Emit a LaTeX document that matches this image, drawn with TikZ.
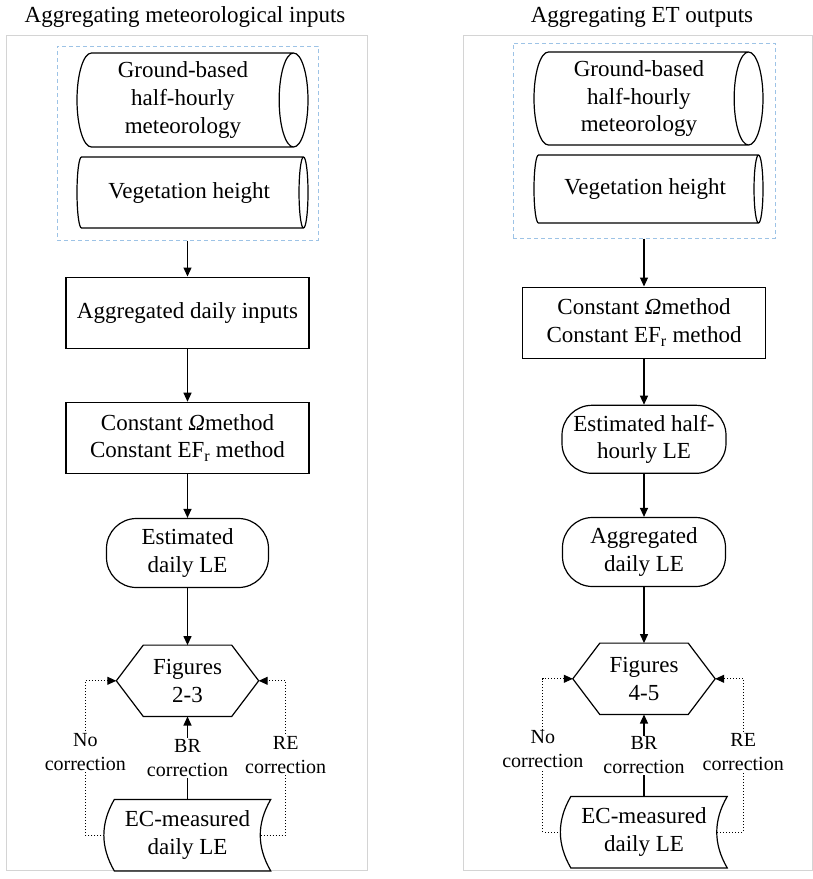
\documentclass[tikz,border=0pt]{standalone}
\usepackage{fontspec}
\setmainfont{Liberation Serif}
\usetikzlibrary{positioning, shapes.geometric, arrows.meta}

\definecolor{dashblue}{RGB}{157,195,230}
\definecolor{panelgray}{RGB}{212,212,212}

\tikzset{
  proc/.style={draw, rectangle, line width=1.2pt, minimum width=243pt,
               minimum height=71pt, align=center, inner sep=2pt},
  term/.style={draw, rectangle, rounded corners=30pt, line width=1.2pt,
               minimum width=163pt, minimum height=69pt, align=center, inner sep=2pt},
  drum/.style={draw, cylinder, shape aspect=0.36, line width=1.2pt, anchor=shape center,
               minimum height=231pt, align=center, inner sep=2pt},
  fig/.style={minimum width=142pt, minimum height=71pt, align=center, inner sep=0pt},
  ecdoc/.style={minimum width=166pt, minimum height=71pt, align=center, inner sep=0pt},
  inbox/.style={draw=dashblue, dash pattern=on 4pt off 3pt, line width=1pt},
  flow/.style={line width=1.2pt, -{Triangle[length=9pt,width=8pt]}},
  corr/.style={line width=1pt, dotted, -{Triangle[length=9pt,width=8pt]}},
  lab/.style={fill=white, align=center, font=\fontsize{20}{24}\selectfont, inner sep=1pt}
}

\begin{document}
\begin{tikzpicture}[x=1pt, y=1pt, font=\fontsize{23}{27.6}\selectfont]
\useasboundingbox (0,0) rectangle (813,-879);

% Panels and titles
\draw[panelgray, line width=1pt] (6,-35) rectangle (367,-870);
\draw[panelgray, line width=1pt] (463,-35) rectangle (812,-870);
\node (titleL) at (185,-17) {Aggregating meteorological inputs};
\node (titleR) at (642,-17) {Aggregating ET outputs};

% Left panel: inputs
\node (inL) [inbox, minimum width=261pt, minimum height=194pt] at (187.5,-143) {};
\node (gbL) [drum, minimum width=94pt] at (192.5,-100) {Ground-based\\half-hourly\\meteorology};
\node (vhL) [drum, minimum width=71pt] at (192.5,-192.5) {Vegetation height};

% Left panel: flow
\node (aggL) [proc, below=36pt of inL] {Aggregated daily inputs};
\node (omL) [proc, below=53pt of aggL] {Constant {\itshape Ω\/}method\\Constant EF\textsubscript{r} method};
\node (estL) [term, below=44pt of omL, minimum width=162pt] {Estimated\\daily LE};
\node (figL) [fig, below=57pt of estL] {Figures\\2-3};
\node (ecL) [ecdoc, below=83pt of figL] {EC-measured\\daily LE};

% Right panel: inputs
\node (inR) [inbox, minimum width=262pt, minimum height=195pt] at (644,-140.5) {};
\node (gbR) [drum, minimum width=93pt, minimum height=229pt] at (648.5,-98.5) {Ground-based\\half-hourly\\meteorology};
\node (vhR) [drum, minimum width=68pt, minimum height=229pt] at (648.5,-189) {Vegetation height};

% Right panel: flow
\node (omR) [proc, below=48pt of inR] {Constant {\itshape Ω\/}method\\Constant EF\textsubscript{r} method};
\node (estR) [term, below=46pt of omR, minimum width=164pt, minimum height=68pt] {Estimated half-\\hourly LE};
\node (aggR) [term, below=43pt of estR] {Aggregated\\daily LE};
\node (figR) [fig, below=56pt of aggR] {Figures\\4-5};
\node (ecR) [ecdoc, below=82pt of figR] {EC-measured\\daily LE};

% Hexagons and measured-data shapes
\foreach \h in {figL, figR}
  \draw[line width=1.2pt] (\h.west) -- ([xshift=27pt]\h.north west) -- ([xshift=-27pt]\h.north east)
    -- (\h.east) -- ([xshift=-27pt]\h.south east) -- ([xshift=27pt]\h.south west) -- cycle;
\foreach \e in {ecL, ecR}
  \draw[line width=1.2pt] ([xshift=10pt]\e.north west) to[bend right=30] ([xshift=10pt]\e.south west)
    -- (\e.south east) to[bend left=30] (\e.north east) -- cycle;
\coordinate (ecLe) at ([xshift=-10pt]ecL.east);
\coordinate (ecRe) at ([xshift=-10pt]ecR.east);

% Arrows
\draw[flow] (inL.south) -- (aggL.north);
\draw[flow] (aggL) -- (omL);
\draw[flow] (omL) -- (estL);
\draw[flow] (estL) -- (figL);
\draw[flow] (inR.south) -- (omR.north);
\draw[flow] (omR) -- (estR);
\draw[flow] (estR) -- (aggR);
\draw[flow] (aggR) -- (figR);

% Corrections
\draw[corr] (ecL.west) -- ++(-19pt,0) |- node[lab, pos=0.27] {No\\correction} (figL.west);
\draw[corr] (ecLe) -- ++(25pt,0) |- node[lab, pos=0.26] {RE\\correction} (figL.east);
\draw[flow] (ecL.north) -- node[lab] {BR\\correction} (figL.south);
\draw[corr] (ecR.west) -- ++(-18pt,0) |- node[lab, pos=0.27] {No\\correction} (figR.west);
\draw[corr] (ecRe) -- ++(26pt,0) |- node[lab, pos=0.26] {RE\\correction} (figR.east);
\draw[flow] (ecR.north) -- node[lab] {BR\\correction} (figR.south);
\end{tikzpicture}
\end{document}
